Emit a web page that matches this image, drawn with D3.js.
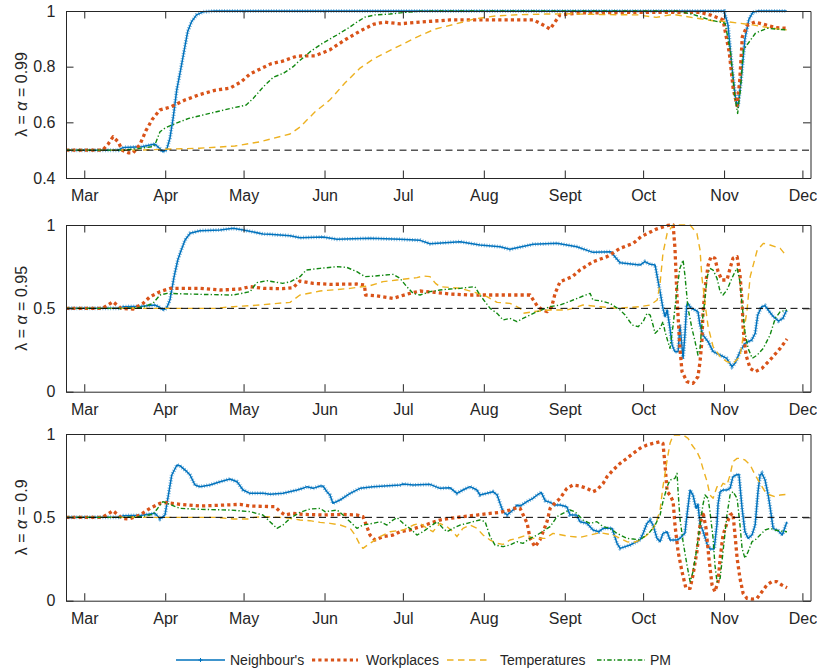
<!DOCTYPE html>
<html>
<head>
<meta charset="utf-8">
<script src="https://cdn.jsdelivr.net/npm/d3@7"></script>
<style>
body { margin: 0; background: #fff; }
text { font-family: "Liberation Sans", Arial, sans-serif; fill: #262626; }
</style>
</head>
<body>
<svg id="chart"></svg>
<script>
// values are [day offset from 1 Mar 2020, lambda value]
var monthLabels = ["Mar", "Apr", "May", "Jun", "Jul", "Aug", "Sept", "Oct", "Nov", "Dec"];
var seriesNames = ["Neighbour's", "Workplaces", "Temperatures", "PM"];
var panelLabels = ["0.99", "0.95", "0.9"];
var baseline = 0.5;

// panel 1 : lambda = alpha = 0.99
var p1Neigh = [[-7,0.5],[13,0.5],[15,0.51],[22,0.512],[27,0.522],[29,0.505],[30,0.494],[31.5,0.5],[32.8,0.543],[34.1,0.62],[35.4,0.716],[37,0.794],[38.3,0.86],[39.6,0.926],[41.1,0.962],[43,0.986],[45.5,0.997],[50,1],[245,1],[246.5,0.95],[248,0.8],[249.5,0.68],[250.3,0.655],[251.5,0.75],[253,0.9],[254.5,0.97],[256,0.995],[258,1],[269,1]];
var p1Work = [[-7,0.5],[7,0.5],[9,0.52],[11,0.548],[13,0.53],[14.5,0.5],[17,0.49],[18.7,0.49],[21.3,0.52],[23.6,0.57],[26,0.61],[29,0.645],[33,0.655],[38.5,0.68],[44.3,0.7],[50,0.715],[55.8,0.723],[60,0.745],[63.5,0.774],[71.4,0.81],[76,0.82],[81.4,0.838],[88.3,0.839],[94,0.86],[99.8,0.896],[106,0.93],[111,0.953],[115,0.96],[121,0.954],[128.6,0.96],[140,0.968],[159,0.968],[172,0.968],[176.5,0.946],[178.4,0.935],[180,0.957],[182.2,0.986],[190,0.993],[210,0.995],[235.8,0.995],[240,0.985],[244.6,0.968],[247,0.85],[248.5,0.72],[250,0.66],[251,0.75],[252,0.908],[254,0.95],[256.8,0.96],[261,0.95],[265,0.94],[269,0.938]];
var p1Temp = [[-7,0.5],[20,0.5],[30,0.503],[44,0.507],[57.7,0.515],[67.3,0.53],[78.8,0.558],[82.6,0.583],[88.3,0.637],[94,0.68],[99.8,0.741],[105.6,0.795],[111.3,0.831],[119,0.867],[126.6,0.903],[134.3,0.935],[142,0.953],[149.6,0.972],[157.3,0.982],[166.9,0.987],[176.5,0.989],[186,0.99],[200,0.987],[212,0.986],[219,0.977],[225.5,0.988],[234.5,0.974],[240.8,0.965],[246,0.962],[250,0.957],[256,0.95],[262,0.94],[269,0.932]];
var p1PM = [[-7,0.5],[15,0.5],[20,0.505],[24,0.51],[26.5,0.513],[27.5,0.53],[29,0.566],[31,0.58],[36,0.6],[40,0.614],[48,0.632],[56,0.65],[62,0.662],[64.7,0.686],[68.6,0.728],[72.4,0.762],[76.2,0.776],[80,0.8],[81.4,0.813],[86.4,0.853],[91.4,0.885],[96.8,0.914],[101.8,0.943],[104.4,0.96],[107.5,0.978],[111.3,0.986],[117,0.989],[122.8,0.995],[128.6,0.999],[135,1],[227,1],[233,0.988],[239.6,0.968],[245.4,0.956],[247.5,0.85],[249,0.7],[250.2,0.632],[251.3,0.72],[252.4,0.86],[257,0.92],[261.4,0.938],[269,0.932]];

// panel 2 : lambda = alpha = 0.95
var p2Neigh = [[-7,0.5],[13,0.5],[15,0.51],[22,0.512],[27.1,0.52],[29,0.505],[30.1,0.49],[31.5,0.5],[32.8,0.55],[34.4,0.69],[35.8,0.79],[36.9,0.84],[38.6,0.91],[40.5,0.95],[44.3,0.966],[52,0.97],[57,0.98],[60.9,0.97],[62.3,0.966],[68.4,0.946],[71.1,0.944],[78.8,0.936],[82.6,0.924],[91.4,0.928],[96.8,0.914],[109.4,0.92],[120.9,0.914],[128.6,0.908],[132.4,0.888],[143.9,0.9],[151.5,0.88],[159.2,0.87],[163,0.854],[171.9,0.884],[181,0.89],[188.6,0.87],[194.8,0.836],[201.7,0.84],[203.2,0.81],[205.2,0.774],[212.8,0.76],[214.7,0.78],[216.7,0.764],[218.6,0.76],[219.3,0.7],[220.5,0.6],[221.6,0.5],[222.4,0.45],[223.2,0.49],[224.3,0.38],[225.1,0.28],[226.2,0.24],[227.4,0.24],[228.1,0.4],[229.3,0.2],[230,0.34],[230.7,0.52],[231.2,0.53],[232.4,0.5],[233.9,0.49],[235,0.48],[235.8,0.4],[236.9,0.34],[238.9,0.3],[240.8,0.24],[243.5,0.22],[246,0.2],[248,0.15],[249.2,0.17],[251.1,0.24],[253,0.29],[255.6,0.31],[256.9,0.35],[257.9,0.46],[259.4,0.51],[260.7,0.516],[262.4,0.48],[263.9,0.45],[265.8,0.424],[267.5,0.44],[269,0.49]];
var p2Work = [[-7,0.5],[7,0.5],[11,0.54],[14,0.5],[18.7,0.496],[22.5,0.53],[25.2,0.57],[29,0.6],[33,0.62],[44.3,0.62],[52,0.61],[59.6,0.616],[63.5,0.63],[68.6,0.62],[76,0.618],[80,0.624],[82.6,0.664],[87.6,0.65],[94.1,0.644],[104.4,0.646],[107.3,0.64],[107.7,0.58],[111.3,0.576],[118.2,0.56],[124.7,0.59],[128.6,0.604],[134.3,0.596],[140,0.586],[147.7,0.58],[163,0.58],[170.7,0.58],[173.4,0.516],[175.4,0.49],[177.3,0.48],[179,0.51],[180.3,0.59],[182.2,0.66],[186.9,0.69],[189.8,0.73],[194.9,0.78],[200.2,0.81],[205.2,0.86],[210.2,0.89],[213.2,0.93],[219,0.975],[223.5,0.998],[225.5,1],[226.2,0.86],[227,0.56],[228.1,0.26],[228.9,0.12],[230.8,0.06],[233.1,0.05],[235,0.09],[235.8,0.18],[236.5,0.3],[236.9,0.46],[237.7,0.62],[238.9,0.76],[240,0.81],[241.5,0.8],[242.7,0.72],[244.2,0.67],[246.1,0.67],[247.3,0.74],[248.4,0.8],[250,0.81],[251.1,0.7],[251.9,0.54],[252.3,0.38],[253.4,0.22],[255,0.14],[256.9,0.12],[259.5,0.14],[262.6,0.19],[266.5,0.26],[269.1,0.316]];
var p2Temp = [[-7,0.5],[30,0.5],[50,0.5],[57,0.51],[67.3,0.52],[74,0.53],[78.8,0.536],[82.6,0.58],[90.3,0.604],[101.8,0.62],[109.4,0.636],[114.4,0.66],[119.7,0.67],[127.4,0.684],[129.7,0.694],[132.4,0.69],[134.5,0.65],[136.2,0.63],[143.9,0.62],[149.6,0.596],[154.2,0.57],[158.1,0.536],[163,0.53],[166.9,0.5],[168.1,0.47],[171.9,0.48],[178.4,0.49],[184.8,0.49],[191,0.52],[197.5,0.51],[204,0.5],[212.8,0.51],[216.7,0.52],[219.4,0.55],[220.5,0.65],[221.6,0.83],[223.2,0.95],[225.5,1],[232,1],[234.6,0.95],[235.8,0.85],[236.5,0.69],[237.7,0.53],[238.9,0.39],[240.8,0.27],[243.5,0.21],[246.1,0.18],[248.4,0.17],[251.1,0.21],[252.3,0.33],[253.8,0.49],[255,0.69],[257.7,0.85],[260.1,0.89],[262.6,0.88],[266.5,0.86],[269.1,0.81]];
var p2PM = [[-7,0.5],[15,0.5],[22,0.505],[26.3,0.53],[29,0.58],[31.7,0.59],[44.3,0.584],[57,0.58],[63.5,0.6],[66,0.654],[70,0.666],[76,0.65],[79,0.66],[82.6,0.69],[85,0.73],[90.3,0.74],[96.8,0.75],[100.5,0.746],[104.4,0.72],[107.5,0.69],[111.3,0.694],[118.2,0.704],[120.9,0.68],[123.5,0.63],[125.9,0.59],[128.6,0.58],[132.4,0.6],[136.2,0.61],[140,0.616],[143.9,0.62],[149.6,0.63],[151.5,0.58],[155.4,0.5],[158.1,0.47],[160.4,0.43],[163,0.44],[165.7,0.42],[168,0.44],[173.4,0.48],[178.4,0.51],[182.2,0.52],[187.2,0.55],[191,0.574],[193.7,0.59],[194.8,0.55],[197.5,0.546],[201.3,0.53],[205.2,0.49],[207.1,0.46],[209.8,0.4],[212.1,0.39],[214,0.42],[215.5,0.47],[216.7,0.46],[217.8,0.4],[218.6,0.35],[220.5,0.38],[221.6,0.42],[222.4,0.36],[223.5,0.3],[224.3,0.26],[225.5,0.4],[227,0.62],[228.1,0.74],[229.3,0.79],[230,0.7],[231.2,0.5],[232.7,0.38],[233.9,0.3],[235,0.22],[235.8,0.26],[236.5,0.4],[237.7,0.56],[238.5,0.69],[239.6,0.74],[240.8,0.73],[242.3,0.68],[243.5,0.6],[244.6,0.58],[246.1,0.61],[248,0.68],[249.2,0.72],[250,0.74],[251.1,0.66],[251.9,0.52],[253,0.36],[254.2,0.26],[255.8,0.2],[257.7,0.22],[260,0.26],[262.6,0.34],[264.6,0.44],[266.5,0.48],[269.1,0.49]];

// panel 3 : lambda = alpha = 0.9
var p3Neigh = [[-7,0.5],[13,0.5],[15,0.51],[22,0.512],[27.1,0.524],[29,0.49],[30.9,0.514],[32,0.614],[33.5,0.754],[35.5,0.814],[36.6,0.81],[39.3,0.774],[40.5,0.754],[42.4,0.694],[44.3,0.684],[48.1,0.694],[52,0.714],[55.8,0.73],[58.5,0.714],[60.8,0.664],[63.5,0.644],[68.6,0.644],[71.1,0.638],[76.1,0.644],[81.5,0.664],[83.7,0.674],[85.3,0.684],[87.6,0.674],[90.3,0.688],[91.4,0.688],[92.9,0.654],[94.1,0.634],[95.2,0.584],[97.9,0.604],[101.8,0.644],[105.6,0.674],[110.6,0.684],[120.9,0.694],[122.1,0.7],[126,0.694],[132.4,0.698],[136.2,0.674],[140,0.678],[142.7,0.644],[145,0.664],[147.7,0.684],[150.4,0.664],[151.5,0.634],[154.2,0.644],[156.5,0.654],[158.1,0.634],[159.2,0.584],[160.4,0.534],[161.9,0.514],[164.2,0.544],[165.7,0.574],[166.9,0.568],[169.5,0.594],[171.8,0.614],[173.4,0.634],[175,0.65],[176.5,0.6],[178.4,0.59],[180.3,0.574],[182.2,0.574],[184.8,0.564],[186,0.514],[188.6,0.514],[189.8,0.474],[192.5,0.464],[194.8,0.424],[197.1,0.414],[198.7,0.434],[202.1,0.434],[204,0.344],[205.2,0.314],[209,0.334],[211.6,0.354],[212.8,0.364],[214,0.404],[215.5,0.464],[216.7,0.484],[217.8,0.454],[219.3,0.374],[220.5,0.354],[221.6,0.404],[223.2,0.414],[224.3,0.364],[227,0.364],[228.1,0.374],[229.3,0.394],[230,0.404],[230.8,0.514],[232,0.664],[233.1,0.634],[234.3,0.554],[235,0.58],[235.8,0.46],[236.9,0.42],[238.5,0.34],[239.6,0.31],[241.2,0.31],[242.3,0.46],[242.7,0.58],[243.5,0.654],[244.6,0.664],[246.1,0.664],[247.3,0.674],[248.4,0.744],[249.6,0.754],[250.7,0.758],[251.9,0.554],[253,0.414],[254.2,0.374],[255.7,0.394],[256.9,0.454],[258,0.654],[258.8,0.754],[259.5,0.764],[260.7,0.724],[261.9,0.634],[262.6,0.564],[263.8,0.434],[265.7,0.42],[267.3,0.394],[268.4,0.444],[269.1,0.474]];
var p3Work = [[-7,0.5],[7,0.5],[11,0.54],[14.5,0.494],[17.1,0.49],[21.3,0.514],[25.2,0.554],[29,0.584],[31.7,0.588],[36.6,0.578],[44.3,0.568],[55.8,0.575],[59.6,0.578],[63.5,0.568],[73,0.564],[75,0.534],[76.9,0.514],[79.9,0.524],[83.8,0.518],[91.4,0.514],[99.1,0.518],[104.4,0.514],[106.7,0.504],[107.5,0.474],[109.4,0.394],[111.3,0.364],[114.4,0.384],[118.2,0.394],[120.9,0.414],[124.7,0.424],[128.6,0.444],[132.4,0.464],[136.2,0.484],[140,0.494],[145,0.504],[150.4,0.514],[155.4,0.524],[159.2,0.53],[163,0.544],[165.7,0.558],[166.9,0.554],[168.1,0.514],[169.6,0.464],[170.7,0.374],[172.6,0.324],[174.5,0.364],[175.7,0.414],[177.2,0.474],[178.4,0.554],[179.5,0.574],[182.2,0.614],[184.8,0.674],[187.2,0.694],[189.8,0.688],[192.5,0.674],[194.8,0.654],[196.3,0.664],[198.7,0.704],[200.2,0.744],[202.5,0.784],[205.2,0.824],[207.8,0.854],[210.2,0.884],[212.8,0.914],[215.5,0.934],[217.8,0.944],[220.5,0.954],[221.6,0.944],[222.4,0.814],[223.2,0.654],[224.3,0.634],[225.5,0.594],[226.2,0.454],[227.4,0.294],[228.9,0.174],[230.4,0.074],[232,0.074],[233.1,0.154],[234.6,0.294],[235.8,0.454],[236.9,0.534],[238.1,0.434],[239.2,0.254],[240.4,0.094],[241.5,0.054],[242.7,0.114],[243.5,0.254],[244.6,0.394],[246.1,0.464],[247.3,0.514],[248.4,0.524],[249.2,0.394],[250,0.254],[251.1,0.134],[252.3,0.044],[253.8,0.014],[255.7,0.01],[257.6,0.014],[259.5,0.054],[261.4,0.094],[263.3,0.114],[265.2,0.114],[267.1,0.094],[269.1,0.078]];
var p3Temp = [[-7,0.5],[50,0.5],[57,0.49],[63,0.49],[65,0.5],[68.5,0.504],[75,0.5],[78.8,0.494],[82.6,0.484],[86.4,0.48],[90.3,0.47],[94.1,0.464],[98,0.454],[101.8,0.434],[103.7,0.394],[105.6,0.334],[106.7,0.314],[109.4,0.344],[113.3,0.384],[117.1,0.414],[122.1,0.424],[126,0.454],[128.6,0.464],[131.2,0.434],[133.5,0.414],[136.2,0.464],[138.9,0.444],[141.2,0.414],[142.7,0.384],[145,0.434],[147.7,0.454],[150.4,0.434],[152.7,0.394],[155.4,0.364],[158.1,0.344],[160.4,0.338],[163,0.364],[165.7,0.374],[169.6,0.394],[171.9,0.374],[176.5,0.374],[179.5,0.404],[184.8,0.388],[189.8,0.38],[193.7,0.394],[197.5,0.408],[202.5,0.394],[207.8,0.354],[210.2,0.348],[212.8,0.364],[215.5,0.394],[217.8,0.434],[219.3,0.484],[220.5,0.544],[221.6,0.684],[223.2,0.844],[224.3,0.944],[225.5,0.994],[229.3,0.994],[231.2,0.974],[232.7,0.934],[234.6,0.894],[235.8,0.854],[236.9,0.794],[238.5,0.714],[239.6,0.634],[240.8,0.614],[242.3,0.684],[243.5,0.674],[244.6,0.704],[246.1,0.694],[247.3,0.754],[248.4,0.834],[250,0.854],[251.1,0.854],[253,0.844],[255,0.814],[256.9,0.754],[258.8,0.704],[260.7,0.654],[262.6,0.634],[264.5,0.624],[266.5,0.634],[269.1,0.638]];
var p3PM = [[-7,0.5],[15,0.5],[22,0.505],[26.3,0.518],[30.1,0.594],[31.7,0.584],[36.6,0.554],[44.3,0.548],[55.8,0.544],[63.5,0.534],[68.4,0.514],[71.1,0.474],[73.8,0.434],[76.1,0.454],[78.8,0.494],[82.6,0.53],[86.4,0.55],[90.3,0.554],[92.2,0.534],[94.1,0.538],[96.8,0.544],[99.1,0.514],[101.8,0.474],[104.4,0.434],[106.7,0.454],[110.6,0.464],[113.3,0.474],[115.9,0.454],[118.2,0.484],[119.8,0.498],[122.1,0.464],[124.7,0.434],[127.4,0.394],[129.7,0.414],[132.4,0.444],[135.1,0.474],[137.4,0.434],[138.9,0.414],[141.2,0.434],[143.9,0.454],[146.6,0.464],[148.9,0.474],[151.5,0.484],[153.5,0.474],[155.4,0.384],[157.3,0.334],[160.4,0.324],[163,0.334],[165.7,0.354],[168,0.344],[170.7,0.374],[173.4,0.394],[175.7,0.418],[178.4,0.444],[181,0.504],[183.3,0.524],[186,0.544],[187.9,0.534],[189.8,0.504],[191,0.484],[193.7,0.464],[196.3,0.474],[198.7,0.444],[201.3,0.434],[204,0.404],[207.8,0.374],[210.2,0.37],[212.8,0.364],[216.7,0.414],[218.6,0.454],[220.5,0.514],[221.6,0.594],[223.2,0.684],[224.3,0.724],[226.2,0.734],[227,0.764],[227.4,0.654],[228.1,0.494],[229.3,0.354],[230.8,0.214],[232,0.114],[233.1,0.174],[234.6,0.314],[235.8,0.454],[236.9,0.574],[237.7,0.634],[238.9,0.614],[239.6,0.534],[240.8,0.374],[241.5,0.214],[242.3,0.114],[243.5,0.134],[244.6,0.294],[246.1,0.514],[247.3,0.634],[248.4,0.654],[250,0.614],[251.1,0.454],[251.9,0.314],[253,0.254],[254.2,0.294],[255.7,0.354],[256.9,0.364],[258.8,0.394],[260.7,0.424],[262.6,0.434],[264.5,0.424],[266.5,0.418],[269.1,0.414]];

var panelData = [
  [p1Neigh, p1Work, p1Temp, p1PM],
  [p2Neigh, p2Work, p2Temp, p2PM],
  [p3Neigh, p3Work, p3Temp, p3PM]
];
var panelDomains = [[0.4, 1], [0, 1], [0, 1]];
var panelTicks = [[0.4, 0.6, 0.8, 1], [0, 0.5, 1], [0, 0.5, 1]];

// look of each series (MATLAB style)
var looks = [
  {color: "#0072BD", width: 1.5, dash: null},
  {color: "#D95319", width: 3.3, dash: "3.2,3.1"},
  {color: "#EDB120", width: 1.4, dash: "6.5,4.5"},
  {color: "#118811", width: 1.4, dash: "4.5,2.2,1.3,2.2"}
];

var width = 817, height = 669;
var svg = d3.select("#chart").attr("width", width).attr("height", height);
svg.append("rect").attr("width", width).attr("height", height).attr("fill", "#fff");

var boxes = [{top: 11, bottom: 178}, {top: 225, bottom: 391.7}, {top: 434, bottom: 600.7}];
var left = 66, right = 810.5, tickLen = 7.5;

var t0 = Date.UTC(2020, 2, 1);
function dayToDate(d) { return new Date(t0 + d * 864e5); }

var x = d3.scaleUtc().domain([dayToDate(-7), dayToDate(278.1)]).range([left, right]);
var monthTicks = d3.utcMonth.range(new Date(Date.UTC(2020, 2, 1)), new Date(Date.UTC(2020, 11, 2)));

panelData.forEach(function(series, p){
	var box = boxes[p];
	var y = d3.scaleLinear().domain(panelDomains[p]).range([box.bottom, box.top]);
	var g = svg.append("g");

	var line = d3.line()
		.x(function(d){ return x(dayToDate(d[0])); })
		.y(function(d){ return y(d[1]); });

	series.forEach(function(pts, i){
		var lk = looks[i];
		g.append("path")
			.attr("d", line(pts))
			.attr("fill", "none")
			.attr("stroke", lk.color)
			.attr("stroke-width", lk.width)
			.attr("stroke-dasharray", lk.dash)
			.attr("stroke-linejoin", "round");
		if (i == 0){
			// the small + markers along Neighbour's
			g.append("path")
				.attr("d", line(pts))
				.attr("fill", "none")
				.attr("stroke", lk.color)
				.attr("stroke-width", 4)
				.attr("stroke-opacity", 0.55)
				.attr("stroke-dasharray", "0.9,1.7");
		}
	});

	// dashed reference line at 0.5
	g.append("line")
		.attr("x1", left).attr("x2", right)
		.attr("y1", y(baseline)).attr("y2", y(baseline))
		.attr("stroke", "#000").attr("stroke-width", 1)
		.attr("stroke-dasharray", "7,4.5");

	// axes with inward ticks on every side (box)
	var fmt = function(d, i){ return monthLabels[i]; };
	var yfmt = function(d){ return d3.format("~g")(d); };
	var axB = g.append("g").attr("transform", "translate(0," + box.bottom + ")")
		.call(d3.axisBottom(x).tickValues(monthTicks).tickFormat(fmt).tickSizeInner(-tickLen).tickSizeOuter(0).tickPadding(12));
	var axT = g.append("g").attr("transform", "translate(0," + box.top + ")")
		.call(d3.axisTop(x).tickValues(monthTicks).tickFormat("").tickSizeInner(-tickLen).tickSizeOuter(0));
	var axL = g.append("g").attr("transform", "translate(" + left + ",0)")
		.call(d3.axisLeft(y).tickValues(panelTicks[p]).tickFormat(yfmt).tickSizeInner(-tickLen).tickSizeOuter(0).tickPadding(10.5));
	var axR = g.append("g").attr("transform", "translate(" + right + ",0)")
		.call(d3.axisRight(y).tickValues(panelTicks[p]).tickFormat("").tickSizeInner(-tickLen).tickSizeOuter(0));
	[axB, axT, axL, axR].forEach(function(a){
		a.selectAll("path, line").attr("stroke", "#262626").attr("stroke-width", 1);
		a.selectAll("text").attr("font-size", 16).attr("fill", "#262626")
			.style("font-family", '"Liberation Sans", Arial, sans-serif');
	});

	// y label
	var lab = g.append("text")
		.attr("transform", "translate(21," + ((box.top + box.bottom) / 2) + ") rotate(-90)")
		.attr("text-anchor", "middle")
		.attr("dy", "0.35em")
		.attr("font-size", 16);
	lab.append("tspan").text("\u03bb = ");
	lab.append("tspan").attr("font-style", "italic").text("\u03b1");
	lab.append("tspan").text(" = " + panelLabels[p]);
});

// legend
var legendItems = [
	{x1: 176, x2: 225, tx: 230},
	{x1: 312, x2: 358, tx: 366},
	{x1: 447, x2: 491, tx: 500},
	{x1: 597, x2: 645, tx: 650}
];
var ly = 660;
var leg = svg.append("g");
legendItems.forEach(function(it, i){
	var lk = looks[i];
	leg.append("line")
		.attr("x1", it.x1).attr("x2", it.x2).attr("y1", ly).attr("y2", ly)
		.attr("stroke", lk.color)
		.attr("stroke-width", i == 1 ? 3 : lk.width)
		.attr("stroke-dasharray", lk.dash);
	if (i == 0){
		var cx = (it.x1 + it.x2) / 2;
		leg.append("path")
			.attr("d", "M" + (cx - 2) + "," + ly + "H" + (cx + 2) + "M" + cx + "," + (ly - 2) + "V" + (ly + 2))
			.attr("stroke", lk.color).attr("stroke-width", 1);
	}
	leg.append("text")
		.attr("x", it.tx).attr("y", ly).attr("dy", "0.35em")
		.attr("font-size", 14)
		.text(seriesNames[i]);
});
</script>
</body>
</html>
